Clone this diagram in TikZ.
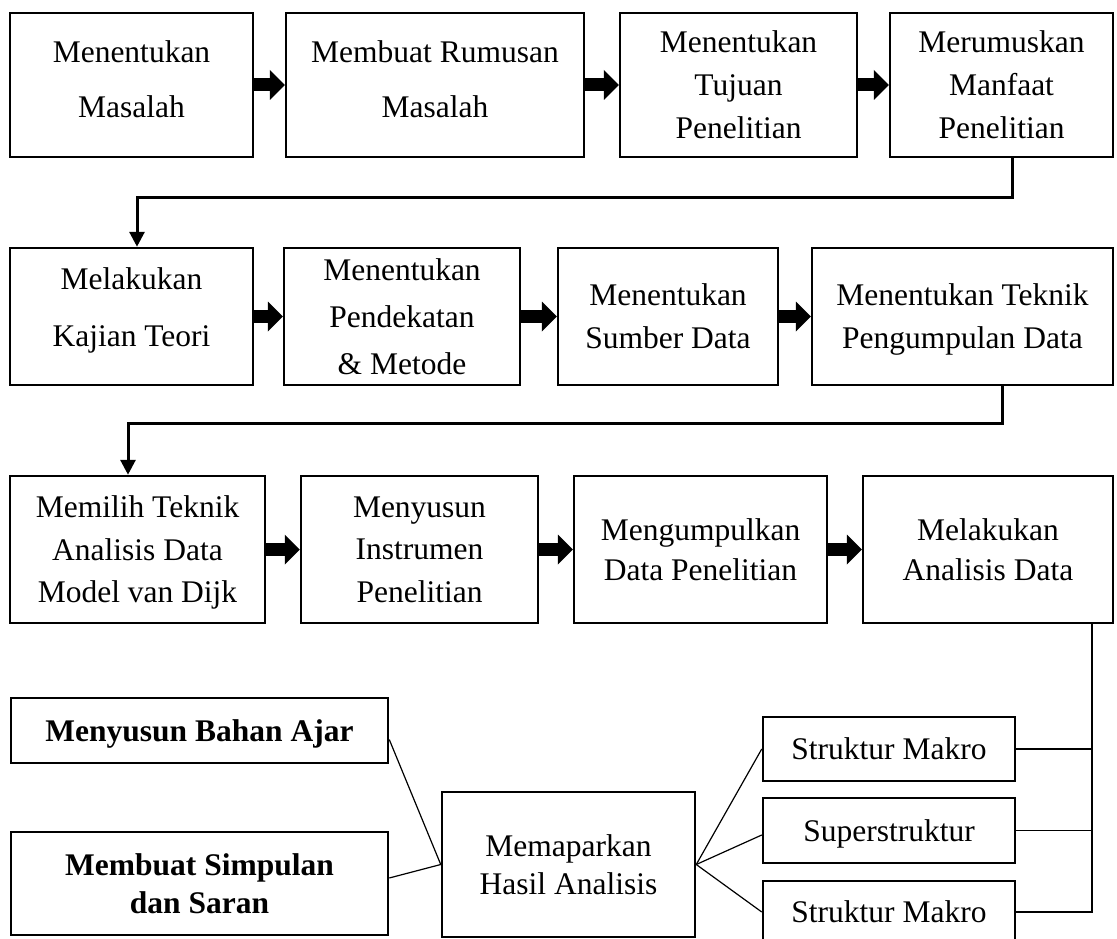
\documentclass[tikz,border=0pt]{standalone}
\usepackage{fontspec}
\setmainfont{Liberation Serif}
\usetikzlibrary{arrows.meta}

\begin{document}
\begin{tikzpicture}[x=1pt, y=-1pt, >={Triangle[length=15pt,width=15pt]},
	   kt/.style={draw, line width=2.5pt, rectangle, align=center, inner sep=0pt, text depth=0pt, font=\fontsize{31.5}{43}\selectfont},
	   sp/.style={font=\fontsize{31.5}{#1}\selectfont},
	   pn/.style={line width=13pt, -{Triangle[length=15pt,width=30pt,line width=0pt]}},
	   hb/.style={line width=3pt, ->},
	   tp/.style={line width=1.2pt}]
	  \useasboundingbox (0,0) rectangle (1117,939);
	  \node[kt, sp=55, text depth=11pt, minimum width=243pt, minimum height=144pt] (a1) at (131.5,85) {Menentukan\\Masalah};
	  \node[kt, sp=55, text depth=11pt, minimum width=298pt, minimum height=144pt] (a2) at (435,85) {Membuat Rumusan\\Masalah};
	  \node[kt, minimum width=237pt, minimum height=144pt] (a3) at (738.5,85) {Menentukan\\Tujuan\\Penelitian};
	  \node[kt, minimum width=223pt, minimum height=144pt] (a4) at (1001.5,85) {Merumuskan\\Manfaat\\Penelitian};
	  \node[kt, sp=57, text depth=18pt, minimum width=243pt, minimum height=137pt] (b1) at (131.5,316.5) {Melakukan\\Kajian Teori};
	  \node[kt, sp=47, minimum width=236pt, minimum height=137pt] (b2) at (402,316.5) {Menentukan\\Pendekatan\\\& Metode};
	  \node[kt, minimum width=220pt, minimum height=137pt] (b3) at (668,316.5) {Menentukan\\Sumber Data};
	  \node[kt, minimum width=301pt, minimum height=137pt] (b4) at (962.5,316.5) {Menentukan Teknik\\Pengumpulan Data};
	  \node[kt, sp=42.5, minimum width=255pt, minimum height=147pt] (c1) at (137.5,549.5) {Memilih Teknik\\Analisis Data\\Model van Dijk};
	  \node[kt, sp=42.5, minimum width=237pt, minimum height=147pt] (c2) at (419.5,549.5) {Menyusun\\Instrumen\\Penelitian};
	  \node[kt, sp=40, minimum width=253pt, minimum height=147pt] (c3) at (700.5,549.5) {Mengumpulkan\\Data Penelitian};
	  \node[kt, sp=40, minimum width=250pt, minimum height=147pt] (c4) at (988,549.5) {Melakukan\\Analisis Data};
	  \node[kt, minimum width=252pt, minimum height=64pt] (s1) at (889,749) {Struktur Makro};
	  \node[kt, minimum width=252pt, minimum height=65pt] (s2) at (889,830.5) {Superstruktur};
	  \node[kt, minimum width=252pt, minimum height=62pt] (s3) at (889,912) {Struktur Makro};
	  \node[kt, sp=38, minimum width=253pt, minimum height=145pt] (hasil) at (568.5,864.5) {Memaparkan\\Hasil Analisis};
	  \node[kt, font=\fontsize{31.5}{38}\selectfont\bfseries, minimum width=377pt, minimum height=65pt] (ajar) at (199.5,730.5) {Menyusun Bahan Ajar};
	  \node[kt, font=\fontsize{31.5}{38}\selectfont\bfseries, minimum width=377pt, minimum height=103pt] (simpul) at (199.5,883.5) {Membuat Simpulan\\dan Saran};
	  \draw[pn] (a1.east)--(a2.west); \draw[pn] (a2.east)--(a3.west); \draw[pn] (a3.east)--(a4.west);
	  \draw[pn] (b1.east)--(b2.west); \draw[pn] (b2.east)--(b3.west); \draw[pn] (b3.east)--(b4.west);
	  \draw[pn] (c1.east)--(c2.west); \draw[pn] (c2.east)--(c3.west); \draw[pn] (c3.east)--(c4.west);
	  \draw[hb] ([xshift=10.5pt]a4.south) -- ++(0,39) -| ([xshift=5.5pt]b1.north);
	  \draw[hb] ([xshift=39.5pt]b4.south) -- ++(0,37) -| ([xshift=-9.5pt]c1.north);
	  \draw[tp] ([xshift=104pt]c4.south) coordinate (v) |- (s3.east); \draw[tp] (s1.east) -- (s1.east -| v); \draw[tp] (s2.east) -- (s2.east -| v);
	  \draw[tp] (hasil.east) -- (s1.west); \draw[tp] (hasil.east) -- ([yshift=-4.5pt]s2.west); \draw[tp] (hasil.east) -- (s3.west);
	  \draw[tp] (hasil.west) -- ([yshift=-9pt]ajar.east); \draw[tp] (hasil.west) -- ([yshift=5.5pt]simpul.east);
	\end{tikzpicture}
\end{document}
